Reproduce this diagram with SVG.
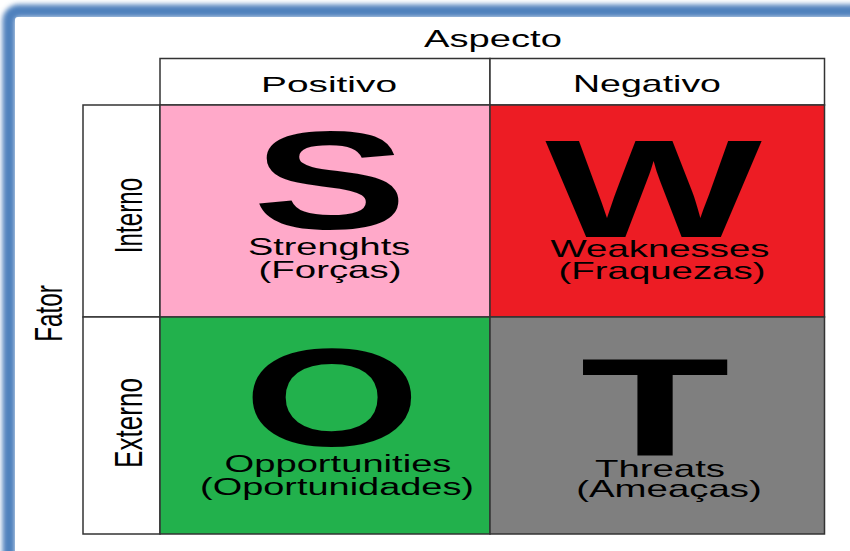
<svg xmlns="http://www.w3.org/2000/svg" width="850" height="551" viewBox="0 0 850 551">
  <defs>
    <filter id="glow" x="-10%" y="-10%" width="120%" height="120%">
      <feGaussianBlur stdDeviation="2.5"/>
    </filter>
    <style>
      .cell { stroke: #333333; stroke-width: 1.5; }
      .lbl { font-family: "Liberation Sans", Arial, sans-serif; fill: #000000; text-anchor: middle; }
      .big { font-family: "Liberation Sans", Arial, sans-serif; font-weight: bold; font-size: 140px; fill: #000000; text-anchor: middle; }
      .hdr { font-size: 23px; }
      .sub { font-size: 24px; }
      .side { font-size: 39px; }
    </style>
  </defs>

  <rect width="850" height="551" fill="#ffffff"/>

  <g id="frame">
    <rect x="9" y="11" width="1000" height="1000" rx="10" fill="none" stroke="#4F81BD" stroke-width="13" filter="url(#glow)"/>
    <rect x="15" y="17" width="1000" height="1000" rx="3" fill="#ffffff"/>
  </g>

  <g id="axis-aspecto">
    <text class="lbl sub" transform="translate(493,47) scale(1.59,1)">Aspecto</text>
  </g>

  <g id="header-positivo">
    <rect class="cell" x="160" y="58.5" width="330" height="46.5" fill="#ffffff"/>
    <text class="lbl hdr" transform="translate(329,92) scale(1.69,1)">Positivo</text>
  </g>

  <g id="header-negativo">
    <rect class="cell" x="490" y="58.5" width="334.5" height="46.5" fill="#ffffff"/>
    <text class="lbl hdr" transform="translate(647,92) scale(1.63,1)">Negativo</text>
  </g>

  <g id="axis-fator">
    <text class="lbl side" transform="translate(62,313.5) rotate(-90) scale(0.62,1)">Fator</text>
  </g>

  <g id="row-interno">
    <rect class="cell" x="83" y="105" width="77" height="212" fill="#ffffff"/>
    <text class="lbl side" transform="translate(142,215.5) rotate(-90) scale(0.62,1)">Interno</text>
  </g>

  <g id="row-externo">
    <rect class="cell" x="83" y="317" width="77" height="217" fill="#ffffff"/>
    <text class="lbl side" transform="translate(142,423) rotate(-90) scale(0.67,1)">Externo</text>
  </g>

  <g id="cell-s">
    <rect class="cell" x="160" y="105" width="330" height="212" fill="#FFA9C9"/>
    <text class="big" transform="translate(330,229) scale(1.66,1)">S</text>
    <text class="lbl sub" transform="translate(329,255) scale(1.58,1)">Strenghts</text>
    <text class="lbl sub" transform="translate(330,278) scale(1.6,1)">(Forças)</text>
  </g>

  <g id="cell-w">
    <rect class="cell" x="490" y="105" width="334.5" height="212" fill="#ED1C24"/>
    <text class="big" transform="translate(653.5,237) scale(1.64,1)">W</text>
    <text class="lbl sub" transform="translate(660,257) scale(1.6,1)">Weaknesses</text>
    <text class="lbl sub" transform="translate(662,279) scale(1.6,1)">(Fraquezas)</text>
  </g>

  <g id="cell-o">
    <rect class="cell" x="160" y="317" width="330" height="217" fill="#22B14C"/>
    <text class="big" transform="translate(332,446) scale(1.63,1)">O</text>
    <text class="lbl sub" transform="translate(338,472) scale(1.59,1)">Opportunities</text>
    <text class="lbl sub" transform="translate(337,495) scale(1.58,1)">(Oportunidades)</text>
  </g>

  <g id="cell-t">
    <rect class="cell" x="490" y="317" width="334.5" height="217" fill="#7F7F7F"/>
    <text class="big" transform="translate(655,455) scale(1.75,1)">T</text>
    <text class="lbl sub" transform="translate(660,477) scale(1.6,1)">Threats</text>
    <text class="lbl sub" transform="translate(669,497) scale(1.6,1)">(Ameaças)</text>
  </g>
</svg>
